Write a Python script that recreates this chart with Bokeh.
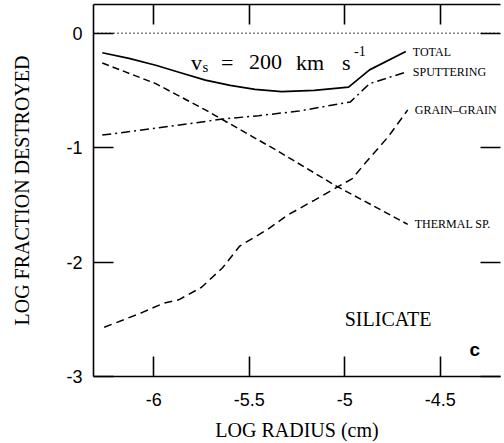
from bokeh.plotting import figure
from bokeh.models import (Range1d, LinearAxis, FixedTicker, Span, Label,
                          CustomLabelingPolicy)
from bokeh.embed import file_html
from bokeh.resources import INLINE

# ---- ticks ----
x_ticks = [-6, -5.5, -5, -4.5]
x_tick_labels = ["-6", "-5.5", "-5", "-4.5"]
y_ticks = [0, -1, -2, -3]
y_tick_labels = ["0", "-1", "-2", "-3"]

# ---- data (log radius, log fraction destroyed) ----
total_x = [-6.27, -6.13, -5.99, -5.86, -5.73, -5.60, -5.47, -5.33, -5.16, -4.98, -4.87, -4.68]
total_y = [-0.17, -0.22, -0.28, -0.345, -0.41, -0.455, -0.49, -0.51, -0.50, -0.47, -0.32, -0.16]

sput_x = [-6.27, -5.99, -5.64, -5.45, -5.24, -4.97, -4.87, -4.68]
sput_y = [-0.89, -0.83, -0.75, -0.72, -0.68, -0.60, -0.44, -0.34]

grain_x = [-6.26, -6.06, -5.95, -5.87, -5.75, -5.64, -5.55, -5.40, -5.30, -5.16, -4.96, -4.89, -4.77, -4.67]
grain_y = [-2.57, -2.44, -2.36, -2.33, -2.22, -2.05, -1.86, -1.71, -1.59, -1.46, -1.27, -1.13, -0.90, -0.67]

therm_x = [-6.27, -5.99, -5.73, -5.55, -5.35, -5.05, -4.67]
therm_y = [-0.26, -0.44, -0.67, -0.84, -1.03, -1.33, -1.67]

series_names = ["TOTAL", "SPUTTERING", "GRAIN\u2013GRAIN", "THERMAL SP."]

SERIF = "Liberation Serif"
SANS = "Liberation Sans"

p = figure(width=504, height=443, output_backend="svg", toolbar_location=None,
           x_range=Range1d(-6.316, -4.184), y_range=Range1d(-3, 0.2514),
           x_axis_location=None, y_axis_location=None,
           min_border_left=93, min_border_right=0, min_border_top=4, min_border_bottom=0)
for r in list(p.center):
    r.visible = False
p.outline_line_color = None
p.background_fill_color = "white"
p.border_fill_color = "white"

no_labels = CustomLabelingPolicy(code="""
const all = [...indices]
for (const i of all) indices.unset(i)
return indices
""")


def style(ax, labels=True):
    ax.axis_line_width = 1.6
    ax.axis_line_color = "black"
    ax.major_tick_line_width = 1.6
    ax.major_tick_line_color = "black"
    ax.major_tick_in = 20
    ax.major_tick_out = 0
    ax.minor_tick_line_color = None
    ax.major_label_text_font = SANS
    ax.major_label_text_color = "black"
    ax.axis_label_text_font = SERIF
    ax.axis_label_text_font_style = "normal"
    ax.axis_label_text_font_size = "20px"
    ax.axis_label_text_color = "black"
    if labels:
        ax.major_label_text_font_size = "18px"
    else:
        ax.major_label_text_font_size = "1px"
        ax.major_label_standoff = 0
        ax.major_label_policy = no_labels


xb = LinearAxis(ticker=FixedTicker(ticks=x_ticks),
                major_label_overrides=dict(zip(x_ticks, x_tick_labels)),
                axis_label="LOG RADIUS (cm)")
style(xb)
xb.major_label_standoff = 16
xb.axis_label_standoff = 10
p.add_layout(xb, "below")

yl = LinearAxis(ticker=FixedTicker(ticks=y_ticks),
                major_label_overrides=dict(zip(y_ticks, y_tick_labels)),
                axis_label="LOG FRACTION DESTROYED")
style(yl)
yl.major_label_standoff = 11
yl.axis_label_standoff = 30
p.add_layout(yl, "left")

xt = LinearAxis(ticker=FixedTicker(ticks=x_ticks))
style(xt, labels=False)
p.add_layout(xt, "above")

yr = LinearAxis(ticker=FixedTicker(ticks=y_ticks))
style(yr, labels=False)
yr.axis_line_color = None
p.add_layout(yr, "right")

p.add_layout(Span(location=0, dimension="width", line_color="black",
                  line_width=1.4, line_dash="1 3"))

p.line(total_x, total_y, line_color="black", line_width=1.7)
p.line(sput_x, sput_y, line_color="black", line_width=1.5, line_dash="9 4 2 4")
p.line(grain_x, grain_y, line_color="black", line_width=1.5, line_dash="8 5")
p.line(therm_x, therm_y, line_color="black", line_width=1.5, line_dash="7 4")

ends = [(total_x[-1], total_y[-1]), (sput_x[-1], sput_y[-1]),
        (grain_x[-1], grain_y[-1]), (therm_x[-1], therm_y[-1])]
for name, (ex, ey) in zip(series_names, ends):
    p.add_layout(Label(x=ex, y=ey, x_offset=7, text=name, text_font=SERIF,
                       text_font_size="12px", text_baseline="middle",
                       text_color="black"))

# shock velocity annotation
vx, vy = -5.805, -0.254
pieces = [("v", 0, 0, "22px"), ("s", 11.5, -5, "15px"), ("=", 30, 0, "22px"),
          ("200", 58, 0, "22px"), ("km", 105, 0, "22px"), ("s", 151, 0, "22px"),
          ("-1", 163, 11, "14px")]
for t, dx, dy, fs in pieces:
    p.add_layout(Label(x=vx, y=vy, x_offset=dx, y_offset=dy, text=t,
                       text_font=SERIF, text_font_size=fs,
                       text_baseline="alphabetic", text_color="black"))

p.add_layout(Label(x=-5.0, y=-2.5, text="SILICATE", text_font=SERIF,
                   text_font_size="20px", text_baseline="middle", text_color="black"))
p.add_layout(Label(x=-4.347, y=-2.762, text="c", text_font=SANS,
                   text_font_style="bold", text_font_size="19px",
                   text_baseline="middle", text_color="black"))

open("out.html", "w").write(file_html(p, INLINE))
